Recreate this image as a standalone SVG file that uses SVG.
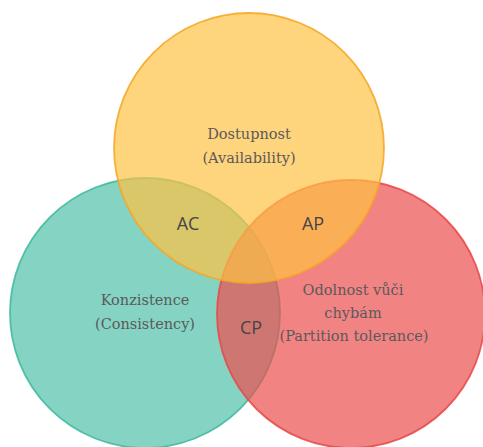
<svg xmlns="http://www.w3.org/2000/svg" width="483" height="447" viewBox="0 0 483 447">
<style>
.c{fill-opacity:0.7;stroke-width:1.8;stroke-opacity:0.85}
.lbl{font-family:"DejaVu Serif","Liberation Serif",serif;font-size:14.5px;fill:#5a5a5a;text-anchor:middle}
.ix{font-family:"Open Sans","Liberation Sans",sans-serif;font-size:18px;fill:#454545;text-anchor:middle}
</style>
<rect width="483" height="447" fill="#ffffff"/>
<g id="consistency">
<circle class="c" cx="145" cy="313" r="135" fill="#51c2a9" stroke="#3db89c"/>
</g>
<g id="partition">
<circle class="c" cx="351" cy="314" r="134" fill="#ec4e4e" stroke="#e84646"/>
</g>
<g id="availability">
<circle class="c" cx="249" cy="148" r="135" fill="#fec244" stroke="#f5a623"/>
</g>
<g id="labels">
<text class="lbl" x="249" y="139">Dostupnost</text>
<text class="lbl" x="249" y="163">(Availability)</text>
<text class="lbl" x="145" y="305">Konzistence</text>
<text class="lbl" x="145" y="329">(Consistency)</text>
<text class="lbl" x="353" y="295">Odolnost vůči</text>
<text class="lbl" x="353" y="318">chybám</text>
<text class="lbl" x="354" y="341">(Partition tolerance)</text>
<text class="ix" x="188" y="230">AC</text>
<text class="ix" x="313" y="230">AP</text>
<text class="ix" x="251" y="334">CP</text>
</g>
</svg>
